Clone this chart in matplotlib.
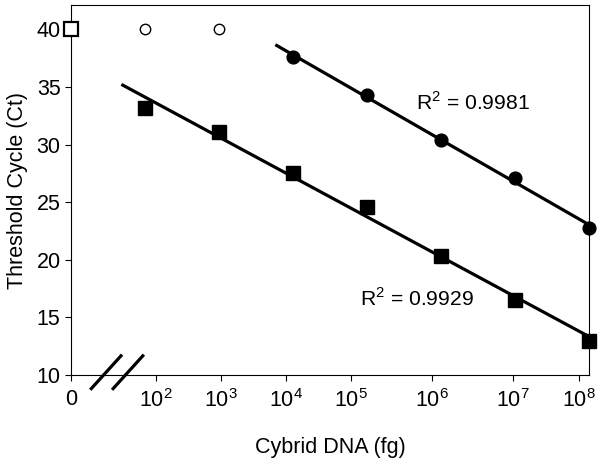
import numpy as np
import matplotlib
matplotlib.use("Agg")
import matplotlib.pyplot as plt
import matplotlib.transforms as mtransforms

plt.rcParams['font.family'] = ['Liberation Sans', 'DejaVu Sans']
plt.rcParams['mathtext.fontset'] = 'custom'
plt.rcParams['mathtext.rm'] = 'Liberation Sans'

# x values are log10(fg); the "0" (no DNA) sample is drawn at position 1
sq_x = [2, 3, 4, 5, 6, 7, 8]
sq_ct = [33.15, 31.07, 27.5, 24.6, 20.3, 16.5, 12.94]
ci_x = [4, 5, 6, 7, 8]
ci_ct = [37.57, 34.28, 30.37, 27.08, 22.74]
neg_sq_x = [1]
neg_sq_ct = [40]
neg_ci_x = [1, 2, 3]
neg_ci_ct = [40, 40, 40]
sq_r2 = 0.9929
ci_r2 = 0.9981

tick_pos = [1, 2.15, 3.03, 3.91, 4.78, 5.88, 6.97, 7.86]
tick_lab = ['0', r'$\mathregular{10^2}$', r'$\mathregular{10^3}$', r'$\mathregular{10^4}$',
            r'$\mathregular{10^5}$', r'$\mathregular{10^6}$', r'$\mathregular{10^7}$',
            r'$\mathregular{10^8}$']

fig = plt.figure(figsize=(6, 4.59), dpi=100)
ax = fig.add_axes([0.1183, 0.183, 0.8634, 0.806])

# regression lines
p_sq = np.polyfit(sq_x, sq_ct, 1)
xs = np.array([1.7, 8.0])
ax.plot(xs, np.polyval(p_sq, xs), color='black', lw=2.3, zorder=2)
p_ci = np.polyfit(ci_x, ci_ct, 1)
xc = np.array([3.78, 8.0])
ax.plot(xc, np.polyval(p_ci, xc), color='black', lw=2.3, zorder=2)

ax.plot(sq_x, sq_ct, 's', color='black', ms=9.8, zorder=3, clip_on=False)
ax.plot(ci_x, ci_ct, 'o', color='black', ms=9.2, zorder=3, clip_on=False)
ax.plot(neg_ci_x, neg_ci_ct, 'o', mfc='white', mec='black', mew=1.0, ms=7.5,
        zorder=3, clip_on=False)
ax.plot(neg_sq_x, neg_sq_ct, 's', mfc='white', mec='black', mew=1.6, ms=9.5,
        zorder=4, clip_on=False)

ax.text(6.43, 33.67, r'R$^2$ = %.4f' % ci_r2, fontsize=15.2, ha='center', va='center')
ax.text(5.68, 16.67, r'R$^2$ = %.4f' % sq_r2, fontsize=15.2, ha='center', va='center')

ax.set_xlim(1, 8)
ax.set_ylim(10, 42.1)
ax.set_xticks(tick_pos)
ax.set_xticklabels(tick_lab)
ax.set_yticks(range(10, 41, 5))
ax.tick_params(axis='both', labelsize=15.5, length=4, width=0.8, direction='out')
ax.tick_params(axis='x', pad=6)
for s in ax.spines.values():
    s.set_linewidth(0.8)

ax.set_xlabel('Cybrid DNA (fg)', fontsize=15.5, labelpad=18)
ax.set_ylabel('Threshold Cycle (Ct)', fontsize=15.5, labelpad=6)

# axis break marks
trans = mtransforms.blended_transform_factory(ax.transData, ax.transAxes)
for x0 in (1.26, 1.555):
    ax.plot([x0, x0 + 0.43], [-0.04, 0.055], color='black', lw=2.3,
            transform=trans, clip_on=False, solid_capstyle='butt')

fig.savefig('out.png', dpi=100)
